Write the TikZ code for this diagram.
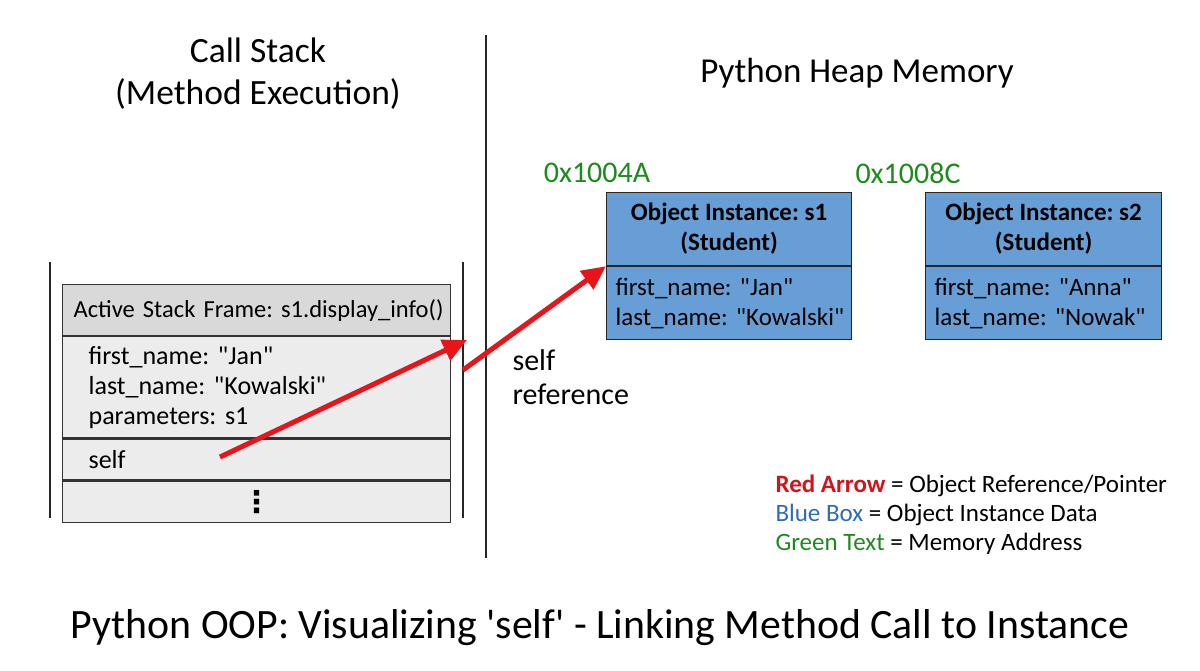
\documentclass[tikz,border=0pt]{standalone}
\usepackage{fontspec}
\setmainfont{Carlito}[Ligatures=TeXOff]
\newfontfamily\dejavu{DejaVu Sans}
\usetikzlibrary{arrows.meta}
\frenchspacing
\definecolor{stackgray}{HTML}{ECECEC}
\definecolor{hdrgray}{HTML}{D9D9D9}
\definecolor{objblue}{HTML}{679ED6}
\definecolor{addrgreen}{HTML}{1E8A1E}
\definecolor{refred}{HTML}{E8141A}
\definecolor{legblue}{HTML}{2E6DB0}
\definecolor{legred}{HTML}{D0141A}
\tikzset{
  stackrow/.style={draw=black!80, line width=1.2pt, fill=stackgray, anchor=north west, inner ysep=0pt, minimum width=388pt, align=left},
  objhdr/.style={draw=black!85, line width=1.2pt, fill=objblue, anchor=north west, align=center, inner sep=0pt, font=\bfseries\fontsize{25}{30}\selectfont},
  objbody/.style={draw=black!85, line width=1.2pt, fill=objblue, anchor=north west, align=left, inner ysep=0pt, inner xsep=9pt, font=\fontsize{25}{30}\selectfont},
  addr/.style={text=addrgreen, font=\fontsize{30}{36}\selectfont},
  refarrow/.style={draw=refred, line width=5pt, -{Triangle[length=24pt,width=22pt]}},
  divline/.style={draw=black!85, line width=1.6pt},
}
\begin{document}
\begin{tikzpicture}[x=1pt,y=-1pt]
\useasboundingbox (0,0) rectangle (1200,670);
\fill[white] (0,0) rectangle (1200,670);
% titles
\node[font=\fontsize{35.5}{42}\selectfont, align=center] (cstitle) at (258,74) {Call Stack\\(Method Execution)};
\node[font=\fontsize{35}{42}\selectfont] (heaptitle) at (857,73) {Python Heap Memory};
% divider
\coordinate (divtop) at (486,35);
\coordinate (divbot) at (486,558);
\draw[divline] (divtop) -- (divbot);
% stack frame side lines
\coordinate (sl1) at (50,262); \coordinate (sl2) at (50,518);
\coordinate (sr1) at (463,262); \coordinate (sr2) at (463,518);
\draw[divline] (sl1) -- (sl2);
\draw[divline] (sr1) -- (sr2);
% stack rows
\node[stackrow, fill=hdrgray, minimum height=51pt, inner xsep=11pt, text width=366pt, font=\fontsize{24.5}{29}\selectfont] (hdr) at (62,284) {\mbox{Active Stack Frame: s1.display\_info()}};
\node[stackrow, minimum height=101pt, inner xsep=26pt, text width=336pt, font=\fontsize{26}{30}\selectfont] (body) at (hdr.south west) {\mbox{first\_name: "Jan"}\\\mbox{last\_name: "Kowalski"}\\\mbox{parameters: s1}};
\node[stackrow, minimum height=41pt, inner xsep=26pt, text width=336pt, font=\fontsize{26}{30}\selectfont] (selfrow) at (body.south west) {self};
\node[stackrow, minimum height=41pt, inner xsep=11pt, text width=366pt, align=center, font=\dejavu\bfseries\fontsize{30}{30}\selectfont] (dotsrow) at (selfrow.south west) {⋮};
% objects
\node[objhdr, minimum width=245pt, minimum height=73pt] (s1hdr) at (606,192) {Object Instance: s1\\(Student)};
\node[objbody, minimum width=245pt, text width=227pt, minimum height=73pt] (s1body) at (s1hdr.south west) {\mbox{first\_name: "Jan"}\\\mbox{last\_name: "Kowalski"}};
\node[objhdr, minimum width=236pt, minimum height=73pt] (s2hdr) at (925,192) {Object Instance: s2\\(Student)};
\node[objbody, minimum width=236pt, text width=218pt, minimum height=73pt] (s2body) at (s2hdr.south west) {\mbox{first\_name: "Anna"}\\\mbox{last\_name: "Nowak"}};
\node[addr] (a1) at (597,173) {0x1004A};
\node[addr] (a2) at (908,173) {0x1008C};
% self reference label
\node[font=\fontsize{30}{34}\selectfont, align=left, anchor=west] (selfref) at (509,377) {self\\reference};
% arrows
\coordinate (selfpt) at (220,457);
\coordinate (gap1) at (467,340);
\coordinate (gap2) at (463,370);
\draw[refarrow] (selfpt) -- (gap1);
\draw[refarrow] (gap2) -- (s1body.north west);
% legend
\node[anchor=west, font=\fontsize{25}{29}\selectfont, align=left] (legend) at (772,515) {{\color{legred}\bfseries Red Arrow} = Object Reference/Pointer\\{\color{legblue}Blue Box} = Object Instance Data\\{\color{addrgreen}Green Text} = Memory Address};
% caption
\node[font=\fontsize{41.8}{50}\selectfont] (caption) at (600,628) {Python OOP: Visualizing 'self' - Linking Method Call to Instance};
\end{tikzpicture}
\end{document}
